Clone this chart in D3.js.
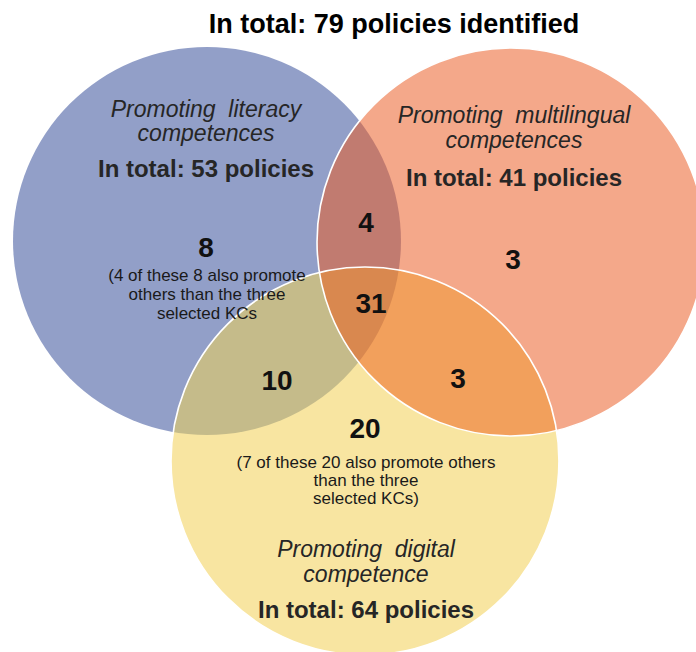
<!DOCTYPE html>
<html>
<head>
<meta charset="utf-8">
<script src="https://cdn.jsdelivr.net/npm/d3@7"></script>
<style>
  html, body { margin: 0; padding: 0; background: #fff; }
  svg { display: block; font-family: "Liberation Sans", Arial, sans-serif; }
</style>
</head>
<body>
<svg id="chart" width="696" height="652"></svg>
<script>
// ---- data ----
const titleText = "In total: 79 policies identified";
const setKeys = ["literacy", "multilingual", "digital"];
const setNameLines = [
  ["Promoting  literacy", "competences"],
  ["Promoting  multilingual", "competences"],
  ["Promoting  digital", "competence"]
];
const setTotals = [53, 41, 64];
const regionKeys = ["L", "M", "D", "LM", "LD", "MD", "LMD"];
const regionCounts = [8, 3, 20, 4, 10, 3, 31];
const regionNotes = {
  L: ["(4 of these 8 also promote", "others than the three", "selected KCs"],
  D: ["(7 of these 20 also promote others", "than the three", "selected KCs)"]
};

// ---- layout (abstract units -> pixels via scales) ----
const x = d3.scaleLinear().domain([0, 100]).range([0, 696]);
const y = d3.scaleLinear().domain([0, 100]).range([0, 652]);
const rScale = d3.scaleLinear().domain([0, 100]).range([0, 696]);
const circleLayout = {
  literacy:     { cx: 29.74, cy: 36.96, r: 27.87 },
  multilingual: { cx: 73.42, cy: 37.12, r: 27.87 },
  digital:      { cx: 52.44, cy: 70.71, r: 27.87 }
};
const fills = { literacy: "#929fc8", multilingual: "#f4a88a", digital: "#f8e5a1" };
const overlapFills = { LM: "#c17b70", LD: "#c5bb8a", MD: "#f2a05c", LMD: "#d9884f" };

const svg = d3.select("#chart");
const defs = svg.append("defs");
setKeys.forEach(k => {
  const c = circleLayout[k];
  defs.append("clipPath").attr("id", "clip-" + k)
    .append("circle").attr("cx", x(c.cx)).attr("cy", y(c.cy)).attr("r", rScale(c.r));
});

const circ = (g, k, fill) => {
  const c = circleLayout[k];
  return g.append("circle").attr("cx", x(c.cx)).attr("cy", y(c.cy)).attr("r", rScale(c.r)).attr("fill", fill);
};

const gc = svg.append("g");
setKeys.forEach(k => circ(gc, k, fills[k]));
circ(gc, "multilingual", overlapFills.LM).attr("clip-path", "url(#clip-literacy)");
circ(gc, "digital", overlapFills.LD).attr("clip-path", "url(#clip-literacy)");
circ(gc, "digital", overlapFills.MD).attr("clip-path", "url(#clip-multilingual)");
const gt = gc.append("g").attr("clip-path", "url(#clip-literacy)");
circ(gt, "digital", overlapFills.LMD).attr("clip-path", "url(#clip-multilingual)");
["multilingual", "digital"].forEach(k => circ(gc, k, "none").attr("stroke", "#fff").attr("stroke-width", 1.6));

// ---- text ----
svg.append("text").attr("x", 394).attr("y", 33).attr("text-anchor", "middle")
  .attr("font-size", 27).attr("font-weight", "bold").attr("fill", "#000").text(titleText);

const setLabelPos = [
  { x: 206, y: [117, 141], ty: 177 },
  { x: 514, y: [123, 148], ty: 186 },
  { x: 366, y: [557, 582], ty: 618 }
];
setKeys.forEach((k, i) => {
  const p = setLabelPos[i];
  setNameLines[i].forEach((line, j) => {
    svg.append("text").attr("x", p.x).attr("y", p.y[j]).attr("text-anchor", "middle")
      .attr("font-size", 23).attr("font-style", "italic").attr("fill", "#262626")
      .style("white-space", "pre").text(line);
  });
  svg.append("text").attr("x", p.x).attr("y", p.ty).attr("text-anchor", "middle")
    .attr("font-size", 24).attr("font-weight", "bold").attr("fill", "#262626")
    .text("In total: " + setTotals[i] + " policies");
});

const regionPos = {
  L: { x: 206, y: 257 }, M: { x: 513, y: 269 }, D: { x: 365, y: 438 },
  LM: { x: 366, y: 232 }, LD: { x: 277, y: 390 }, MD: { x: 458, y: 388 }, LMD: { x: 371, y: 313 }
};
regionKeys.forEach((k, i) => {
  const p = regionPos[k];
  svg.append("text").attr("x", p.x).attr("y", p.y).attr("text-anchor", "middle")
    .attr("font-size", 28).attr("font-weight", "bold").attr("fill", "#111").text(regionCounts[i]);
});
const notePos = { L: { x: 207, y: [281, 300, 319] }, D: { x: 366, y: [468, 486, 504] } };
Object.keys(regionNotes).forEach(k => {
  regionNotes[k].forEach((line, j) => {
    svg.append("text").attr("x", notePos[k].x).attr("y", notePos[k].y[j]).attr("text-anchor", "middle")
      .attr("font-size", 17).attr("fill", "#1a1a1a").text(line);
  });
});
</script>
</body>
</html>
